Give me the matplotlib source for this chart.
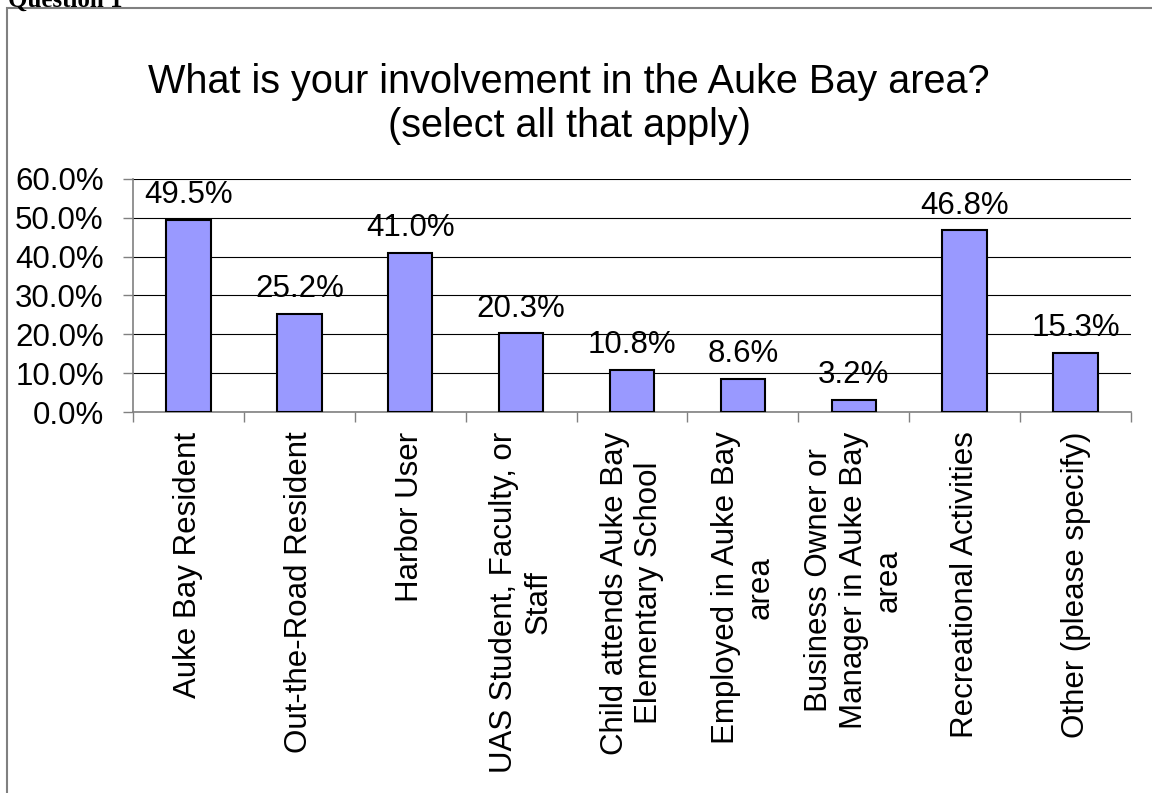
import matplotlib.pyplot as plt
from matplotlib.patches import Rectangle
from matplotlib.ticker import FuncFormatter

categories = [
    "Auke Bay Resident",
    "Out-the-Road Resident",
    "Harbor User",
    "UAS Student, Faculty, or\nStaff",
    "Child attends Auke Bay\nElementary School",
    "Employed in Auke Bay\narea",
    "Business Owner or\nManager in Auke Bay\narea",
    "Recreational Activities",
    "Other (please specify)",
]
values = [49.5, 25.2, 41.0, 20.3, 10.8, 8.6, 3.2, 46.8, 15.3]
yticks = [0, 10, 20, 30, 40, 50, 60]

plt.rcParams['font.family'] = ['Liberation Sans', 'DejaVu Sans']

W, H = 1152, 793
fig = plt.figure(figsize=(W / 100, H / 100), dpi=100)

# outer frame and cut-off heading
fig.add_artist(Rectangle((7 / W, -0.1), 1.2, 1 - 8 / H + 0.1, transform=fig.transFigure,
                         fill=False, edgecolor='#808080', linewidth=1.5))
fig.text(8 / W, 1 - 7 / H, "Question 1", fontsize=18, family='Liberation Serif',
         fontweight='bold', va='baseline', ha='left')

ax = fig.add_axes([133 / W, 1 - 412 / H, (1131 - 133) / W, (412 - 179) / H])

x = range(len(values))
bars = ax.bar(x, values, width=0.4, color='#9999FF', edgecolor='black', linewidth=1.5, zorder=3)
for b, v in zip(bars, values):
    ax.annotate(f"{v:.1f}%", (b.get_x() + b.get_width() / 2, v), xytext=(0, 12),
                textcoords='offset points', ha='center', va='baseline', fontsize=22.5)

ax.set_xlim(-0.5, len(values) - 0.5)
ax.set_ylim(0, 60)
ax.set_yticks(yticks)
ax.yaxis.set_major_formatter(FuncFormatter(lambda v, p: f"{v:.1f}%"))
ax.grid(axis='y', color='black', linewidth=0.8, zorder=0)
ax.tick_params(axis='y', length=7, width=1, color='#808080', labelsize=22.5, pad=14)

ax.set_xticks(x)
ax.set_xticklabels(categories, rotation=90, fontsize=22.5, ha='center', va='top',
                   multialignment='center')
ax.tick_params(axis='x', length=0, pad=14)
# category boundary ticks
ax.set_xticks([i - 0.5 for i in range(len(values) + 1)], minor=True)
ax.tick_params(axis='x', which='minor', length=7, width=1, color='#808080')

for s in ['top', 'right']:
    ax.spines[s].set_visible(False)
for s in ['left', 'bottom']:
    ax.spines[s].set_color('#808080')
    ax.spines[s].set_linewidth(1.2)

fig.text(569 / W, 1 - 104 / H, "What is your involvement in the Auke Bay area?\n(select all that apply)",
         ha='center', va='center', fontsize=28.5, linespacing=1.2)

fig.savefig('out.png', dpi=100)
